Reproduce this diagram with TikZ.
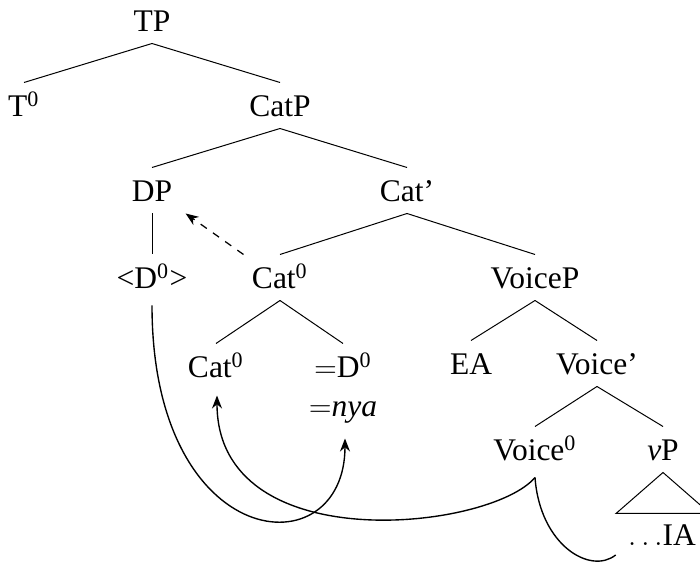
\documentclass[tikz,border=0pt]{standalone}
\usepackage{fontspec}
\setmainfont{Liberation Serif}
\usetikzlibrary{arrows.meta}
\begin{document}
\begin{tikzpicture}[x=0.4pt,y=-0.4pt,
  lab/.style={anchor=base, inner sep=0pt, text height=13.6pt, text depth=4.4pt, font=\fontsize{12.6}{15}\selectfont},
  branch/.style={line width=0.4pt},
  tip/.style={-{Stealth[length=5.2pt,width=4pt,inset=1.7pt]}},
  move/.style={line width=0.55pt, tip},
  link/.style={line width=0.55pt}]
\useasboundingbox (0,0) rectangle (700,564);
\node[lab] (tp) at (152,32) {TP};
\node[lab] (t0) at (24,117) {T\textsuperscript{0}};
\node[lab] (catp) at (280,117) {CatP};
\node[lab] (dp) at (152,202) {DP};
\node[lab] (catbar) at (407,202) {Cat'};
\node[lab] (dtrace) at (152,289) {<D\textsuperscript{0}>};
\node[lab] (cathead) at (280,289) {Cat\textsuperscript{0}};
\node[lab] (voicep) at (535,289) {VoiceP};
\node[lab] (catlow) at (216,378) {Cat\textsuperscript{0}};
\node[lab] (eqd) at (343,378) {$=$D\textsuperscript{0}};
\node[lab] (nya) at (343,417) {$=$\textit{nya}};
\node[lab] (ea) at (471,375) {EA};
\node[lab] (voicebar) at (597,375) {Voice'};
\node[lab] (voice0) at (535,461) {Voice\textsuperscript{0}};
\node[lab] (vp) at (663,461) {\textit{v}P};
\node[lab] (ia) at (662,546) {$\ldots$IA};
% branches
\draw[branch] (tp.south) -- (t0.north);
\draw[branch] (tp.south) -- (catp.north);
\draw[branch] (catp.south) -- (dp.north);
\draw[branch] (catp.south) -- (catbar.north);
\draw[branch] (dp.south) -- (dtrace.north);
\draw[branch] (catbar.south) -- (cathead.north);
\draw[branch] (catbar.south) -- (voicep.north);
\draw[branch] (cathead.south) -- (catlow.north);
\draw[branch] (cathead.south) -- (eqd.north);
\draw[branch] (voicep.south) -- (ea.north);
\draw[branch] (voicep.south) -- (voicebar.north);
\draw[branch] (voicebar.south) -- (voice0.north);
\draw[branch] (voicebar.south) -- (vp.north);
\draw[branch] (vp.south) -- ++(-47,41) -- ++(94,0) -- cycle;
% movement
\draw[line width=0.5pt, dashed, tip] ([xshift=-3.2pt]cathead.north west) -- ([xshift=5.2pt]dp.south east);
\draw[move] ([yshift=-2pt]dtrace.south) .. controls +(0,249) and +(0,132) .. ([xshift=0.8pt,yshift=-4pt]nya.south);
\draw[move] ([yshift=-2pt]voice0.south) .. controls +(-45,53) and +(0,165) .. ([xshift=0.4pt,yshift=-2.4pt]catlow.south);
\draw[link] ([yshift=-2pt]voice0.south) .. controls +(5,68) and +(-25,20) .. ([xshift=-4.8pt,yshift=-3.6pt]ia.base west);
\end{tikzpicture}
\end{document}
